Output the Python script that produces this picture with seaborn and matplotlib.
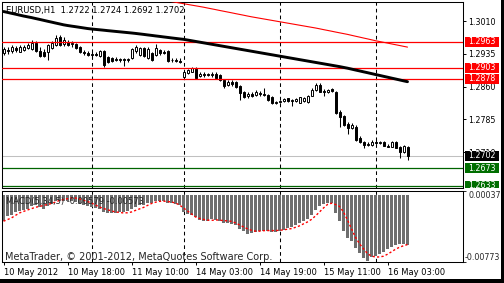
import numpy as np
import pandas as pd
import matplotlib
matplotlib.use("Agg")
import matplotlib.pyplot as plt
import matplotlib.transforms as mtrans
from matplotlib.patches import Rectangle
import seaborn as sns

sns.set_style("white")
plt.rcParams['font.family'] = ['DejaVu Sans']

# ---------------- data (EURUSD H1) ----------------
opens = [1.2937, 1.2944, 1.2941, 1.2948, 1.2940, 1.2944, 1.2948, 1.2946, 1.2960, 1.2942,
         1.2939, 1.2940, 1.2948, 1.2955, 1.2973, 1.2957, 1.2962, 1.2957, 1.2957, 1.2951,
         1.2939, 1.2937, 1.2932, 1.2935, 1.2930, 1.2941, 1.2928, 1.2925, 1.2923, 1.2921,
         1.2923, 1.2921, 1.2925, 1.2941, 1.2932, 1.2948, 1.2925, 1.2937, 1.2932, 1.2944,
         1.2939, 1.2941, 1.2921, 1.2921, 1.2919, 1.2883, 1.2891, 1.2894, 1.2901, 1.2884,
         1.2889, 1.2889, 1.2887, 1.2889, 1.2887, 1.2875, 1.2864, 1.2871, 1.2871, 1.2861,
         1.2848, 1.2839, 1.2843, 1.2841, 1.2845, 1.2843, 1.2841, 1.2836, 1.2823, 1.2825,
         1.2827, 1.2833, 1.2827, 1.2827, 1.2823, 1.2826, 1.2825, 1.2839, 1.2852, 1.2864,
         1.2850, 1.2848, 1.2855, 1.2848, 1.2802, 1.2793, 1.2774, 1.2765, 1.2768, 1.2742,
         1.2733, 1.2726, 1.2726, 1.2733, 1.2731, 1.2733, 1.2725, 1.2722, 1.2734, 1.2722,
         1.2710, 1.2722]
highs = [1.2951, 1.2951, 1.2955, 1.2953, 1.2954, 1.2955, 1.2960, 1.2967, 1.2964, 1.2951,
         1.2946, 1.2957, 1.2964, 1.2977, 1.2978, 1.2973, 1.2967, 1.2964, 1.2960, 1.2953,
         1.2944, 1.2941, 1.2939, 1.2939, 1.2944, 1.2944, 1.2930, 1.2928, 1.2928, 1.2925,
         1.2925, 1.2925, 1.2948, 1.2955, 1.2951, 1.2951, 1.2951, 1.2939, 1.2957, 1.2946,
         1.2944, 1.2944, 1.2925, 1.2925, 1.2925, 1.2896, 1.2900, 1.2905, 1.2905, 1.2893,
         1.2893, 1.2891, 1.2893, 1.2893, 1.2889, 1.2877, 1.2875, 1.2875, 1.2873, 1.2864,
         1.2850, 1.2848, 1.2848, 1.2852, 1.2850, 1.2857, 1.2843, 1.2839, 1.2827, 1.2829,
         1.2834, 1.2834, 1.2832, 1.2834, 1.2836, 1.2837, 1.2841, 1.2857, 1.2868, 1.2868,
         1.2855, 1.2855, 1.2857, 1.2850, 1.2807, 1.2795, 1.2779, 1.2777, 1.2772, 1.2747,
         1.2736, 1.2733, 1.2738, 1.2738, 1.2736, 1.2736, 1.2729, 1.2736, 1.2736, 1.2724,
         1.2726, 1.2724]
lows = [1.2932, 1.2935, 1.2937, 1.2939, 1.2939, 1.2941, 1.2946, 1.2944, 1.2939, 1.2928,
        1.2928, 1.2921, 1.2946, 1.2953, 1.2953, 1.2953, 1.2953, 1.2951, 1.2946, 1.2937,
        1.2932, 1.2930, 1.2928, 1.2930, 1.2928, 1.2905, 1.2914, 1.2916, 1.2919, 1.2916,
        1.2907, 1.2916, 1.2923, 1.2937, 1.2930, 1.2928, 1.2923, 1.2919, 1.2930, 1.2932,
        1.2935, 1.2916, 1.2916, 1.2916, 1.2914, 1.2880, 1.2889, 1.2893, 1.2877, 1.2882,
        1.2882, 1.2884, 1.2882, 1.2877, 1.2873, 1.2857, 1.2861, 1.2861, 1.2857, 1.2829,
        1.2834, 1.2834, 1.2836, 1.2839, 1.2839, 1.2839, 1.2827, 1.2820, 1.2820, 1.2823,
        1.2825, 1.2825, 1.2816, 1.2825, 1.2823, 1.2824, 1.2823, 1.2839, 1.2850, 1.2848,
        1.2839, 1.2845, 1.2848, 1.2797, 1.2768, 1.2770, 1.2752, 1.2763, 1.2736, 1.2731,
        1.2720, 1.2724, 1.2724, 1.2729, 1.2729, 1.2724, 1.2721, 1.2722, 1.2720, 1.2697,
        1.2708, 1.2692]
closes = [1.2946, 1.2941, 1.2951, 1.2944, 1.2951, 1.2951, 1.2955, 1.2960, 1.2941, 1.2930,
          1.2930, 1.2955, 1.2960, 1.2971, 1.2955, 1.2967, 1.2955, 1.2960, 1.2948, 1.2939,
          1.2937, 1.2932, 1.2935, 1.2932, 1.2941, 1.2909, 1.2917, 1.2919, 1.2921, 1.2923,
          1.2921, 1.2923, 1.2946, 1.2951, 1.2948, 1.2930, 1.2946, 1.2921, 1.2948, 1.2937,
          1.2937, 1.2919, 1.2920, 1.2919, 1.2916, 1.2893, 1.2898, 1.2902, 1.2880, 1.2889,
          1.2887, 1.2887, 1.2889, 1.2880, 1.2875, 1.2861, 1.2871, 1.2866, 1.2860, 1.2845,
          1.2837, 1.2843, 1.2839, 1.2848, 1.2843, 1.2841, 1.2829, 1.2823, 1.2825, 1.2827,
          1.2832, 1.2827, 1.2829, 1.2832, 1.2836, 1.2835, 1.2839, 1.2852, 1.2864, 1.2848,
          1.2848, 1.2852, 1.2850, 1.2800, 1.2790, 1.2772, 1.2766, 1.2772, 1.2738, 1.2734,
          1.2726, 1.2729, 1.2734, 1.2731, 1.2733, 1.2725, 1.2722, 1.2734, 1.2720, 1.2711,
          1.2724, 1.2702]

ma_black = [1.30317, 1.30297, 1.30276, 1.30256, 1.30235, 1.30214, 1.30196, 1.30178, 1.30157, 1.30137,
            1.30116, 1.30095, 1.30075, 1.30054, 1.30034, 1.30013, 1.29997, 1.29983, 1.29970, 1.29956,
            1.29942, 1.29928, 1.29917, 1.29908, 1.29899, 1.29890, 1.29880, 1.29871, 1.29862, 1.29853,
            1.29844, 1.29835, 1.29826, 1.29816, 1.29805, 1.29794, 1.29782, 1.29771, 1.29759, 1.29748,
            1.29736, 1.29725, 1.29713, 1.29702, 1.29691, 1.29681, 1.29665, 1.29649, 1.29633, 1.29617,
            1.29601, 1.29585, 1.29569, 1.29553, 1.29537, 1.29521, 1.29505, 1.29489, 1.29473, 1.29457,
            1.29441, 1.29425, 1.29409, 1.29393, 1.29377, 1.29361, 1.29345, 1.29329, 1.29313, 1.29297,
            1.29281, 1.29265, 1.29249, 1.29233, 1.29217, 1.29201, 1.29185, 1.29169, 1.29153, 1.29137,
            1.29121, 1.29105, 1.29089, 1.29073, 1.29057, 1.29039, 1.29021, 1.29000, 1.28979, 1.28959,
            1.28938, 1.28918, 1.28897, 1.28876, 1.28856, 1.28835, 1.28815, 1.28794, 1.28774, 1.28753,
            1.28732, 1.28712]
ma_red = [np.nan] * 40 + [
            1.30576, 1.30560, 1.30544, 1.30528, 1.30512, 1.30496, 1.30480, 1.30464, 1.30448, 1.30432,
            1.30416, 1.30397, 1.30379, 1.30361, 1.30342, 1.30324, 1.30306, 1.30288, 1.30269, 1.30251,
            1.30233, 1.30214, 1.30196, 1.30180, 1.30164, 1.30148, 1.30132, 1.30116, 1.30100, 1.30084,
            1.30068, 1.30052, 1.30036, 1.30020, 1.30004, 1.29988, 1.29972, 1.29956, 1.29940, 1.29922,
            1.29903, 1.29885, 1.29867, 1.29848, 1.29830, 1.29812, 1.29794, 1.29773, 1.29752, 1.29732,
            1.29711, 1.29691, 1.29670, 1.29649, 1.29631, 1.29613, 1.29595, 1.29576, 1.29558, 1.29540,
            1.29521, 1.29503]

macd_main = [-0.00299, -0.00249, -0.00230, -0.00200, -0.00185, -0.00173, -0.00162, -0.00135, -0.00123, -0.00143,
             -0.00162, -0.00135, -0.00108, -0.00078, -0.00071, -0.00071, -0.00078, -0.00078, -0.00086, -0.00108,
             -0.00123, -0.00135, -0.00146, -0.00154, -0.00162, -0.00200, -0.00211, -0.00211, -0.00211, -0.00200,
             -0.00200, -0.00192, -0.00162, -0.00146, -0.00123, -0.00116, -0.00097, -0.00097, -0.00078, -0.00071,
             -0.00078, -0.00097, -0.00097, -0.00108, -0.00116, -0.00200, -0.00222, -0.00230, -0.00260, -0.00287,
             -0.00306, -0.00299, -0.00276, -0.00287, -0.00299, -0.00325, -0.00325, -0.00336, -0.00344, -0.00390,
             -0.00420, -0.00450, -0.00439, -0.00431, -0.00420, -0.00413, -0.00420, -0.00428, -0.00428, -0.00413,
             -0.00401, -0.00382, -0.00374, -0.00351, -0.00325, -0.00306, -0.00276, -0.00237, -0.00173, -0.00135,
             -0.00108, -0.00097, -0.00097, -0.00211, -0.00306, -0.00420, -0.00496, -0.00527, -0.00610, -0.00667,
             -0.00725, -0.00760, -0.00712, -0.00705, -0.00678, -0.00656, -0.00629, -0.00602, -0.00579, -0.00572,
             -0.00564, -0.00579]
macd_signal = [-0.00306, -0.00287, -0.00268, -0.00239, -0.00211, -0.00194, -0.00177, -0.00162, -0.00146, -0.00137,
               -0.00125, -0.00114, -0.00103, -0.00086, -0.00068, -0.00057, -0.00048, -0.00038, -0.00040, -0.00051,
               -0.00065, -0.00080, -0.00097, -0.00120, -0.00143, -0.00160, -0.00174, -0.00188, -0.00200, -0.00205,
               -0.00211, -0.00209, -0.00200, -0.00182, -0.00165, -0.00148, -0.00125, -0.00103, -0.00088, -0.00078,
               -0.00076, -0.00080, -0.00086, -0.00097, -0.00120, -0.00154, -0.00188, -0.00222, -0.00257, -0.00274,
               -0.00285, -0.00293, -0.00296, -0.00291, -0.00293, -0.00299, -0.00302, -0.00308, -0.00325, -0.00348,
               -0.00371, -0.00393, -0.00410, -0.00420, -0.00420, -0.00414, -0.00413, -0.00413, -0.00413, -0.00410,
               -0.00405, -0.00397, -0.00390, -0.00376, -0.00359, -0.00336, -0.00314, -0.00285, -0.00245, -0.00200,
               -0.00154, -0.00114, -0.00100, -0.00114, -0.00137, -0.00200, -0.00291, -0.00393, -0.00490, -0.00564,
               -0.00621, -0.00678, -0.00705, -0.00716, -0.00715, -0.00707, -0.00684, -0.00656, -0.00627, -0.00604,
               -0.00587, -0.00573]

red_levels = [1.2963, 1.2903, 1.2878]
bid_level = 1.2702
green_levels = [1.2673, 1.2633]
price_ticks = [1.3010, 1.2935, 1.2860, 1.2785, 1.2710]
time_tick_bars = [0, 16, 32, 48, 64, 80, 96]
time_tick_labels = ["10 May 2012", "10 May 18:00", "11 May 10:00", "14 May 03:00",
                    "14 May 19:00", "15 May 11:00", "16 May 03:00"]
day_separator_bars = [22, 45, 69, 93]
macd_scale = [0.00037, -0.00773]
header_text = "EURUSD,H1  1.2722 1.2724 1.2692 1.2702"
macd_text = "MACD(5,34,5) -0.00579 -0.00573"
copyright_text = "MetaTrader, \u00a9 2001-2012, MetaQuotes Software Corp."

df = pd.DataFrame({"bar": np.arange(len(opens)), "open": opens, "high": highs,
                   "low": lows, "close": closes, "ma_black": ma_black, "ma_red": ma_red,
                   "macd": macd_main, "signal": macd_signal})

# ---------------- layout ----------------
W, H = 504, 283
fig = plt.figure(figsize=(W / 100, H / 100), dpi=100)
fig.patch.set_facecolor("white")

def fbox(x0, y0, x1, y1):
    return [x0 / W, 1 - y1 / H, (x1 - x0) / W, (y1 - y0) / H]

ax = fig.add_axes(fbox(2, 1.5, 462.5, 188))
axm = fig.add_axes(fbox(2, 190.5, 462.5, 262))
axs = fig.add_axes(fbox(462.5, 1.5, 501, 188))

XLIM = (-0.375, 114.75)
YLIM = (1.262807, 1.305460)
for a in (ax, axm):
    a.set_xlim(*XLIM)
    a.set_facecolor("white")
    for s in a.spines.values():
        s.set_color("black")
        s.set_linewidth(0.75)
ax.set_ylim(*YLIM)
axm.set_ylim(-0.00773, 0.00046)

# day separators
for a in (ax, axm):
    for b in day_separator_bars:
        a.axvline(b, color="black", lw=0.75, ls=(0, (3.5, 3)), zorder=1)

# horizontal levels
ax.axhline(bid_level, color="#c0c0c0", lw=0.75, zorder=1.5)
for lv in green_levels:
    ax.axhline(lv, color="#006400", lw=0.9, zorder=1.5)

# candles
up = df["close"] >= df["open"]
ax.vlines(df["bar"], df["low"], df["high"], color="black", lw=0.75, zorder=3)
ax.bar(df["bar"][up], (df["close"] - df["open"])[up], bottom=df["open"][up],
       width=0.5, color="white", edgecolor="black", lw=0.7, zorder=4)
ax.bar(df["bar"][~up], (df["open"] - df["close"])[~up], bottom=df["close"][~up],
       width=0.5, color="black", edgecolor="black", lw=0.7, zorder=4)

for lv in red_levels:
    ax.axhline(lv, color="#ff0000", lw=0.9, zorder=5)

# moving averages
sns.lineplot(data=df, x="bar", y="ma_black", ax=ax, color="black", lw=2.1, zorder=6)
sns.lineplot(data=df.dropna(subset=["ma_red"]), x="bar", y="ma_red", ax=ax,
             color="#ff0000", lw=0.8, zorder=6)
ax.set_xlabel("")
ax.set_ylabel("")
ax.set_xticks([])
ax.yaxis.tick_right()
ax.set_yticks(price_ticks)
ax.set_yticklabels([f"{p:.4f}" for p in price_ticks])
ax.tick_params(axis="y", direction="out", length=2.5, width=0.7, pad=1.5,
               labelsize=5.7, colors="black")

ax.text(4.5 / 460.5, 1 - 9.5 / 186.5, header_text, transform=ax.transAxes,
        fontsize=6.0, va="center", ha="left", color="black", zorder=10)

# price-scale labels (boxes)
axs.set_ylim(*YLIM)
axs.set_xlim(0, 1)
axs.axis("off")
bt = mtrans.blended_transform_factory(axs.transAxes, axs.transData)
half = 5 * (YLIM[1] - YLIM[0]) / 186.5
box_specs = [(p, "#ff0000") for p in red_levels] + [(bid_level, "black")] + \
            [(p, "#006e00") for p in green_levels]
for p, col in box_specs:
    axs.add_patch(Rectangle((2.5 / 38.5, p - half), 34 / 38.5, 2 * half,
                            transform=bt, facecolor=col, edgecolor="none",
                            clip_on=True, zorder=3))
    axs.text(5.8 / 38.5, p, f"{p:.4f}", transform=bt, color="white", fontsize=5.7,
             va="center", ha="left", clip_on=True, zorder=4)

# MACD panel
axm.bar(df["bar"], df["macd"], width=0.74, color="#6e6e6e", edgecolor="none",
        linewidth=0, antialiased=False, zorder=2)
sns.lineplot(data=df, x="bar", y="signal", ax=axm, color="#ff0000", lw=1.0,
             linestyle=(0, (1.6, 1.6)), zorder=3)
axm.set_xlabel("")
axm.set_ylabel("")
axm.yaxis.tick_right()
axm.set_yticks(macd_scale)
axm.set_yticklabels([])
axm.tick_params(axis="y", direction="out", length=2.5, width=0.7)
axm.annotate(f"{macd_scale[0]:.5f}", xy=(1, macd_scale[0]),
             xycoords=("axes fraction", "data"), xytext=(4.2, 0), textcoords="offset points",
             fontsize=5.7, va="top", ha="left", annotation_clip=False)
axm.annotate(f"{macd_scale[1]:.5f}", xy=(1, macd_scale[1]),
             xycoords=("axes fraction", "data"), xytext=(1.5, 0), textcoords="offset points",
             fontsize=5.7, va="bottom", ha="left", annotation_clip=False)

axm.set_xticks(time_tick_bars)
axm.set_xticklabels(time_tick_labels, ha="left")
axm.tick_params(axis="x", direction="out", length=2.2, width=0.7, pad=1.8,
                labelsize=6.0, colors="black", bottom=True)

axm.text(4 / 460.5, 1 - 11 / 71.5, macd_text, transform=axm.transAxes,
         fontsize=6.0, va="center", ha="left", zorder=10)
axm.text(3 / 460.5, 1.8 / 71.5, copyright_text, transform=axm.transAxes,
         fontsize=7.0, va="baseline", ha="left", zorder=10)

# black frame strips (right & bottom)
fig.add_artist(Rectangle((501 / W, 0), 3 / W, 1, transform=fig.transFigure,
                         facecolor="black", edgecolor="none"))
fig.add_artist(Rectangle((0, 0), 1, 4.5 / H, transform=fig.transFigure,
                         facecolor="black", edgecolor="none"))

fig.savefig("out.png", dpi=100, facecolor="white")
